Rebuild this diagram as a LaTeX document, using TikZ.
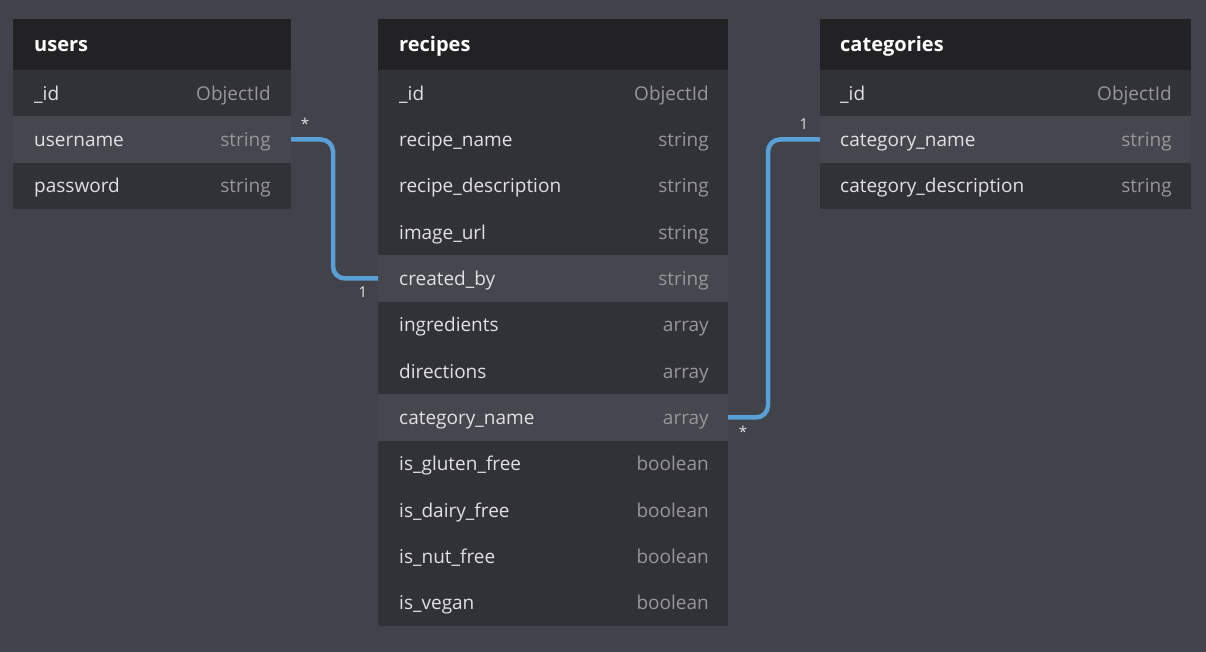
\documentclass[tikz,border=0pt]{standalone}
\usepackage{fontspec}
\setmainfont{Open Sans}
\usetikzlibrary{positioning}

\definecolor{canvas}{RGB}{66,66,74}
\definecolor{headfill}{RGB}{34,34,36}
\definecolor{rowfill}{RGB}{49,49,56}
\definecolor{hifill}{RGB}{70,70,78}
\definecolor{linkblue}{RGB}{88,160,214}
\definecolor{nametext}{RGB}{225,225,228}
\definecolor{typetext}{RGB}{150,150,155}

\tikzset{
  head/.style={fill=headfill, minimum height=51pt, inner sep=0pt, outer sep=0pt, anchor=north west},
  title/.style={text=white, font=\fontsize{20}{24}\selectfont\bfseries, inner sep=0pt,
    text height=19pt, text depth=4pt, anchor=west},
  row/.style={fill=rowfill, minimum height=46.33pt, inner sep=0pt, outer sep=0pt},
  hirow/.style={row, fill=hifill},
  fname/.style={text=nametext, font=\fontsize{19}{23}\selectfont, inner sep=0pt,
    text height=18pt, text depth=4pt, anchor=west},
  ftype/.style={fname, text=typetext, anchor=east},
  link/.style={draw=linkblue, line width=4.5pt, rounded corners=12pt},
  card/.style={text=nametext, font=\fontsize{15}{17}\selectfont, inner sep=0pt}
}

\begin{document}
\begin{tikzpicture}
\fill[canvas] (0,0) rectangle (1206pt,-652pt);
\useasboundingbox (0,0) rectangle (1206pt,-652pt);

% users
\node[head, minimum width=278pt] (users) at (13pt,-19pt) {};
\node[title, right=21pt of users.west] {users};
\foreach \f/\t/\s [count=\i] in {\_id/ObjectId/row, username/string/hirow, password/string/row}{
  \pgfmathsetmacro\d{(\i-1)*46.33}
  \node[\s, minimum width=278pt, below=\d pt of users.south] (users-\i) {};
  \node[fname, right=21pt of users-\i.west] {\f};
  \node[ftype, left=20pt of users-\i.east] {\t};
}

% recipes
\node[head, minimum width=350pt] (recipes) at (378pt,-19pt) {};
\node[title, right=21pt of recipes.west] {recipes};
\foreach \f/\t/\s [count=\i] in {\_id/ObjectId/row, recipe\_name/string/row,
    recipe\_description/string/row, image\_url/string/row, created\_by/string/hirow,
    ingredients/array/row, directions/array/row, category\_name/array/hirow,
    is\_gluten\_free/boolean/row, is\_dairy\_free/boolean/row,
    is\_nut\_free/boolean/row, is\_vegan/boolean/row}{
  \pgfmathsetmacro\d{(\i-1)*46.33}
  \node[\s, minimum width=350pt, below=\d pt of recipes.south] (recipes-\i) {};
  \node[fname, right=21pt of recipes-\i.west] {\f};
  \node[ftype, left=19pt of recipes-\i.east] {\t};
}

% categories
\node[head, minimum width=371pt] (categories) at (820pt,-19pt) {};
\node[title, right=20pt of categories.west] {categories};
\foreach \f/\t/\s [count=\i] in {\_id/ObjectId/row, category\_name/string/hirow,
    category\_description/string/row}{
  \pgfmathsetmacro\d{(\i-1)*46.33}
  \node[\s, minimum width=371pt, below=\d pt of categories.south] (categories-\i) {};
  \node[fname, right=20pt of categories-\i.west] {\f};
  \node[ftype, left=19pt of categories-\i.east] {\t};
}

% relations
\draw[link] (users-2.east) -- ++(42pt,0) |- (recipes-5.west);
\draw[link] (recipes-8.east) -- ++(40pt,0) |- (categories-2.west);
\node[card] (star1) at ([xshift=14pt,yshift=16pt]users-2.east) {*};
\node[card] (one1) at ([xshift=-15pt,yshift=-14pt]recipes-5.west) {1};
\node[card] (star2) at ([xshift=15pt,yshift=-14pt]recipes-8.east) {*};
\node[card] (one2) at ([xshift=-16pt,yshift=15pt]categories-2.west) {1};
\end{tikzpicture}
\end{document}
